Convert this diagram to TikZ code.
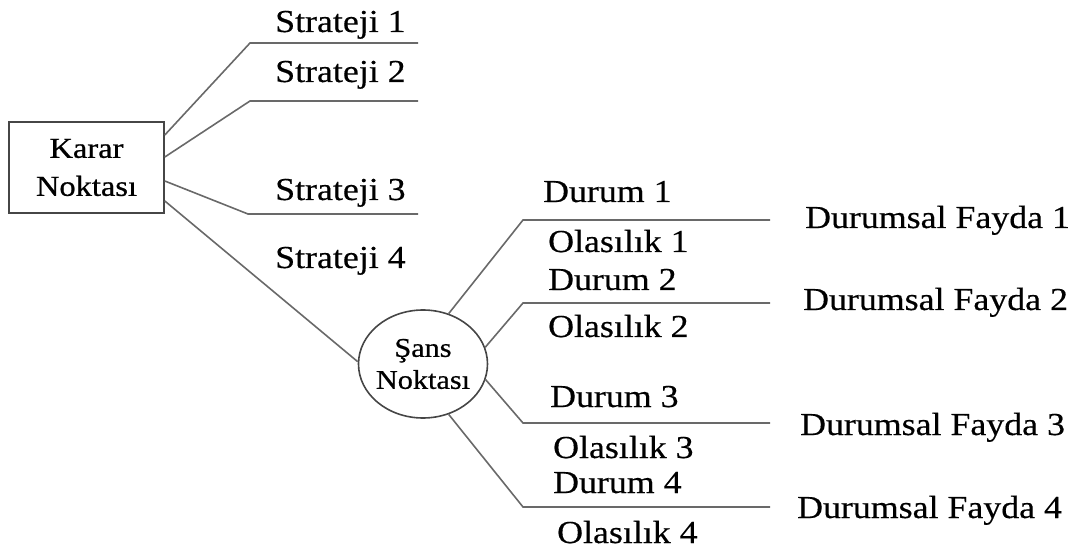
\documentclass[tikz,border=0pt]{standalone}
\usepackage{fontspec}
\setmainfont{Liberation Serif}
\newfontfamily\lblfont[FakeStretch=1.12,FakeBold=0.4]{Liberation Serif}
\newfontfamily\nodefont[FakeStretch=1.12,FakeBold=0.7]{Liberation Serif}
\usetikzlibrary{shapes.geometric}
\definecolor{linecol}{RGB}{105,105,105}
\definecolor{edgecol}{RGB}{70,70,70}
\begin{document}
\begin{tikzpicture}[x=1pt,y=-1pt,
  conn/.style={draw=linecol,line width=1.6pt},
  lbl/.style={anchor=base west,inner sep=0pt,font=\lblfont\fontsize{32}{38}\selectfont},
  boxnode/.style={draw=edgecol,line width=1.6pt,rectangle,minimum width=155pt,minimum height=91pt,align=center,inner sep=0pt,font=\nodefont\fontsize{29}{38}\selectfont},
  chancenode/.style={draw=edgecol,line width=1.6pt,ellipse,minimum width=129pt,minimum height=108pt,align=center,inner xsep=-14pt,inner ysep=0pt,font=\nodefont\fontsize{27}{32}\selectfont}]
\useasboundingbox (0,0) rectangle (1082,553);

\node[boxnode] (karar) at (86.5,167.5) {Karar\\Noktası};
\node[chancenode] (sans) at (423,364) {Şans\\Noktası};

% strategy branches
\coordinate (s1k) at (250,43);  \coordinate (s1e) at (418,43);
\coordinate (s2k) at (250,101); \coordinate (s2e) at (418,101);
\coordinate (s3k) at (248,214); \coordinate (s3e) at (418,214);
\draw[conn] ([yshift=32.5pt]karar.east) -- (s1k) -- (s1e);
\draw[conn] ([yshift=10.5pt]karar.east) -- (s2k) -- (s2e);
\draw[conn] ([yshift=-13.5pt]karar.east) -- (s3k) -- (s3e);
\draw[conn] ([yshift=-33.5pt]karar.east) -- (sans.178);

\node[lbl] (st1) at (275,32) {Strateji 1};
\node[lbl] (st2) at (275,82) {Strateji 2};
\node[lbl] (st3) at (275,200) {Strateji 3};
\node[lbl] (st4) at (275,268) {Strateji 4};

% chance branches
\coordinate (d1k) at (523,220); \coordinate (d1e) at (770,220);
\coordinate (d2k) at (523,303); \coordinate (d2e) at (770,303);
\coordinate (d3k) at (523,423); \coordinate (d3e) at (770,423);
\coordinate (d4k) at (523,507); \coordinate (d4e) at (770,507);
\draw[conn] (sans.63) -- (d1k) -- (d1e);
\draw[conn] (sans.15) -- (d2k) -- (d2e);
\draw[conn] (sans.-14) -- (d3k) -- (d3e);
\draw[conn] (sans.-63) -- (d4k) -- (d4e);

\node[lbl] (du1) at (543,202) {Durum 1};
\node[lbl] (ol1) at (548,252) {Olasılık 1};
\node[lbl] (du2) at (548,290) {Durum 2};
\node[lbl] (ol2) at (548,337) {Olasılık 2};
\node[lbl] (du3) at (550,407) {Durum 3};
\node[lbl] (ol3) at (553,458) {Olasılık 3};
\node[lbl] (du4) at (553,493) {Durum 4};
\node[lbl] (ol4) at (557,543) {Olasılık 4};

\node[lbl] (df1) at (805,228) {Durumsal Fayda 1};
\node[lbl] (df2) at (803,310) {Durumsal Fayda 2};
\node[lbl] (df3) at (800,435) {Durumsal Fayda 3};
\node[lbl] (df4) at (797,518) {Durumsal Fayda 4};
\end{tikzpicture}
\end{document}
